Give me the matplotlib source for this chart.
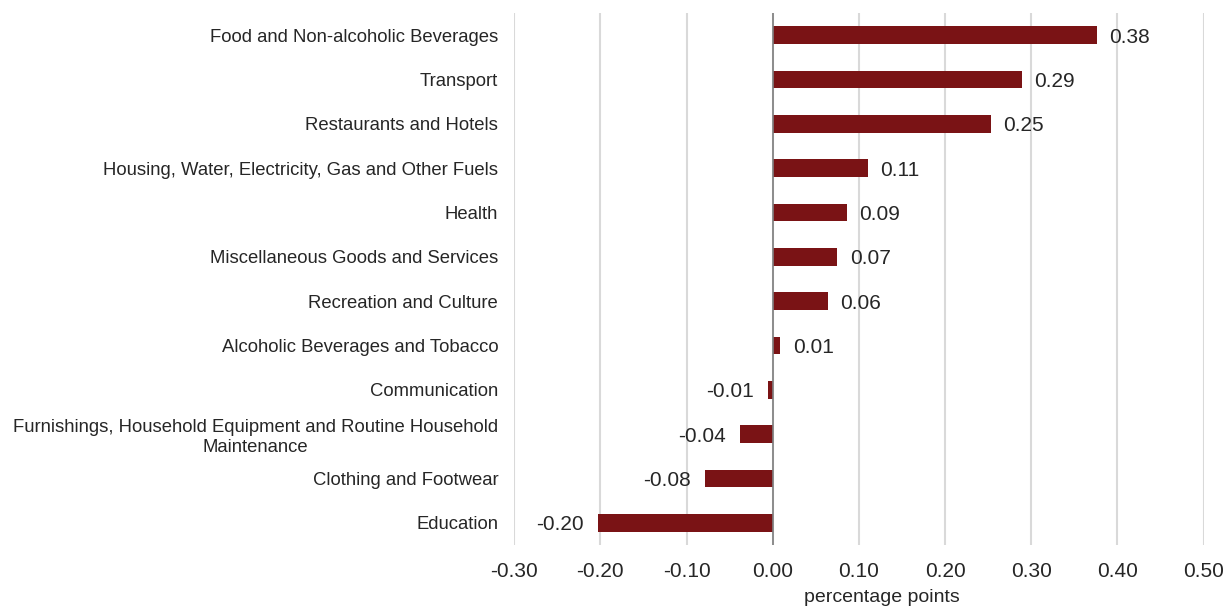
import matplotlib
matplotlib.use('Agg')
import matplotlib.pyplot as plt
import numpy as np

plt.rcParams['font.family'] = ['Liberation Sans', 'DejaVu Sans']

categories = [
    'Food and Non-alcoholic Beverages',
    'Transport',
    'Restaurants and Hotels',
    'Housing, Water, Electricity, Gas and Other Fuels',
    'Health',
    'Miscellaneous Goods and Services',
    'Recreation and Culture',
    'Alcoholic Beverages and Tobacco',
    'Communication',
    'Furnishings, Household Equipment and Routine Household\nMaintenance',
    'Clothing and Footwear',
    'Education',
]
values = [0.376, 0.289, 0.253, 0.11, 0.086, 0.075, 0.064, 0.009, -0.006, -0.038, -0.079, -0.203]
labels = ['0.38', '0.29', '0.25', '0.11', '0.09', '0.07', '0.06', '0.01', '-0.01', '-0.04', '-0.08', '-0.20']
xticks = [-0.3, -0.2, -0.1, 0.0, 0.1, 0.2, 0.3, 0.4, 0.5]

fig = plt.figure(figsize=(12.27, 6.06), dpi=100)
ax = fig.add_axes([0.419, 0.1007, 0.562, 0.878])

ypos = np.arange(len(categories))[::-1]
ax.barh(ypos, values, height=0.4, color='#7a1315', zorder=3)

# value labels next to each bar
for y, v, lab in zip(ypos, values, labels):
    if v >= 0:
        ax.annotate(lab, (v, y), xytext=(9, -1.5), textcoords='offset points',
                    ha='left', va='center', fontsize=15, color='#262626')
    else:
        ax.annotate(lab, (v, y), xytext=(-10, -1.5), textcoords='offset points',
                    ha='right', va='center', fontsize=15, color='#262626')

ax.set_xlim(-0.3, 0.5)
ax.set_ylim(-0.5, len(categories) - 0.5)
ax.set_xticks(xticks)
ax.set_xticklabels(['%.2f' % t for t in xticks], fontsize=15, color='#262626')
ax.set_yticks(ypos)
ax.set_yticklabels(categories, fontsize=13.3, color='#262626', ha='right',
                   multialignment='center', linespacing=1.2)
ax.tick_params(axis='y', length=0, pad=11.5)
ax.tick_params(axis='x', length=0, pad=12)
ax.set_xlabel('percentage points', fontsize=14, color='#262626', va='center')
ax.xaxis.set_label_coords(0.533, -0.098)

ax.grid(axis='x', color='#d9d9d9', linewidth=1.5, zorder=0)
ax.axvline(0, color='#808080', linewidth=1.2, zorder=4)
for s in ax.spines.values():
    s.set_visible(False)

fig.savefig('out.png', dpi=100)
